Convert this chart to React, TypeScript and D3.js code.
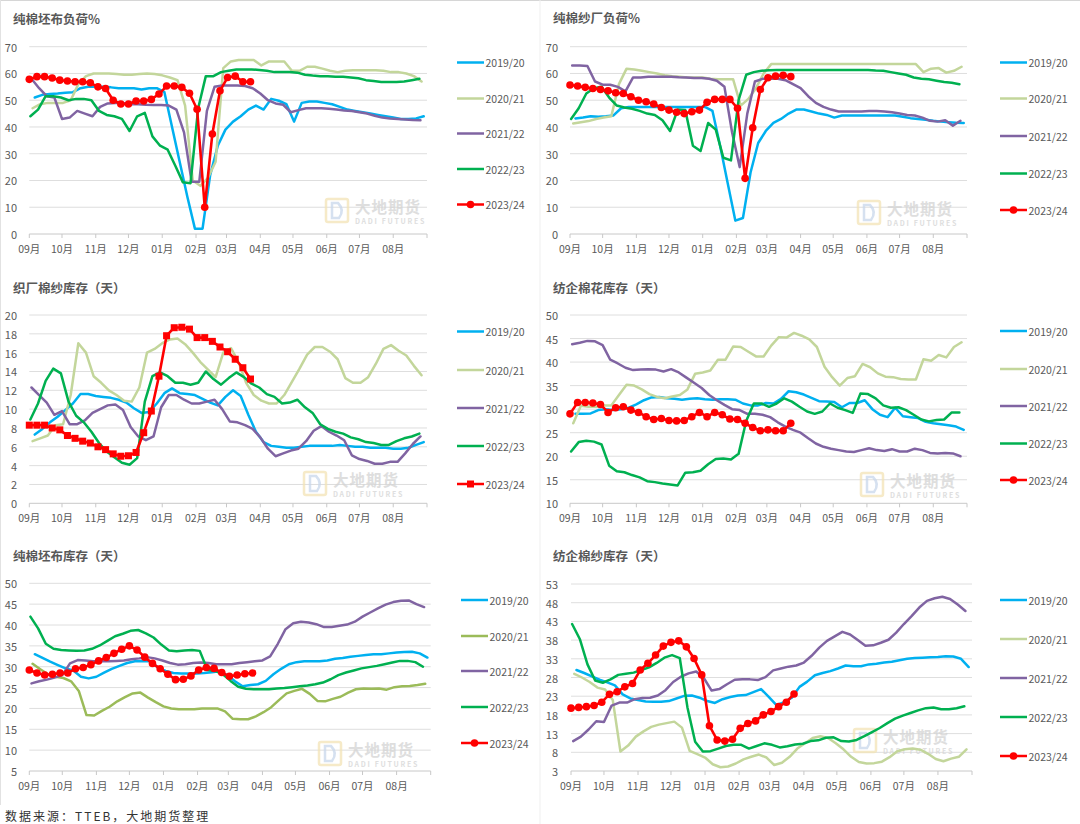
import React from 'react';
import * as d3 from 'd3';

// ---------- shared categories ----------
const seasons = ['2019/20', '2020/21', '2021/22', '2022/23', '2023/24'];
const seasonFirstWeek = ['2019-09-06', '2020-09-04', '2021-09-03', '2022-09-02', '2023-09-01'];
const monthLabels = ['09月', '10月', '11月', '12月', '01月', '02月', '03月', '04月', '05月', '06月', '07月', '08月'];
const seasonColors = ['#00b0f0', '#c3d69b', '#8064a2', '#00b050', '#ff0000'];
const seasonColorsAlt = ['#00b0f0', '#9bbb59', '#8064a2', '#00b050', '#ff0000'];

// ---------- 纯棉坯布负荷% ----------
const greyLoad1920 = [51, 52, 52.3, 52.5, 52.8, 53, 54.5, 55, 55, 55, 54.8, 54.5, 54.5, 54.5, 54, 54.5, 54.5, 53, 40, 27, 14, 2, 2, 22, 33, 39, 42, 44, 46.5, 48, 46.5, 50.5, 49.8, 48.5, 42, 49, 49.5, 49.5, 49, 48.5, 47.5, 46.5, 46, 45.5, 45, 44.5, 44, 43.5, 43, 43, 43.2, 44];
const greyLoad2021 = [47, 48.5, 49, 49, 49, 50, 56, 59, 60, 60, 60, 59.8, 59.5, 59.5, 59.8, 60, 59.8, 59.3, 58.5, 57.5, 48, 20, 18, 21, 27, 62, 64.5, 65, 65, 65, 63, 64.5, 64.5, 64.5, 61, 61, 62.5, 62.5, 61.8, 61, 60.5, 61, 61.2, 61.2, 61.2, 61.2, 61, 60.5, 60.5, 60, 59, 57];
const greyLoad2122 = [58, 54.5, 51.5, 51, 43, 43.5, 46, 45, 44, 47.5, 48.8, 49, 49, 48.5, 48.5, 48.3, 48.2, 48.2, 48, 46.5, 38, 19.5, 19.5, 46, 55, 55.5, 55.5, 55.5, 55.3, 54.5, 52.5, 50, 48.8, 48.3, 45.5, 46.3, 47, 47, 47, 46.8, 46.5, 46.2, 46, 45.5, 45, 44.2, 43.5, 43.2, 43, 42.8, 42.6, 42.5];
const greyLoad2223 = [44, 46.5, 51.5, 51.5, 51, 50, 50.5, 50.5, 50, 46, 44.5, 44, 43, 38.5, 44, 45.3, 36.5, 33, 31.5, 25.5, 19.3, 19, 47, 59, 59, 60.5, 61, 61.5, 61.5, 61.5, 61.3, 61, 60.5, 60.5, 60.5, 60.3, 59.5, 59.2, 59, 59, 58.8, 58.8, 58.5, 58.2, 57.5, 57.2, 56.8, 56.8, 56.8, 57, 57.5, 58];
const greyLoad2324 = [57.8, 58.8, 58.8, 58.3, 57.5, 57.2, 56.9, 56.9, 56.5, 55, 54.4, 50, 48.6, 48.6, 49.7, 49.7, 50.3, 52.3, 55.3, 55.3, 54.8, 52.6, 46.6, 10, 37.4, 53.5, 58.5, 59, 56.9, 56.9];

// ---------- 纯棉纱厂负荷% ----------
const yarnLoad1920 = [43.2, 43.5, 44, 43.8, 44, 44.3, 47, 47.5, 47.5, 47.5, 47.5, 47.5, 47.5, 47.5, 47.5, 47.5, 47.5, 47.5, 46, 33, 19, 5, 6, 23, 34, 38.5, 41.5, 43, 45, 46.5, 46.5, 45.8, 45, 44.5, 43.5, 44.3, 44.3, 44.3, 44.3, 44.3, 44.3, 44.3, 44.3, 43.8, 43.3, 43, 42.7, 42.3, 42, 41.8, 41.6, 41.5];
const yarnLoad2021 = [41.3, 41.8, 42.2, 43, 43.5, 44, 56, 61.8, 61.5, 61, 60.5, 60, 59.3, 59, 58.8, 58.5, 58.5, 58.5, 58, 57.8, 57.8, 57.8, 48, 50.5, 54.5, 60, 63.5, 63.5, 63.5, 63.5, 63.5, 63.5, 63.5, 63.5, 63.5, 63.5, 63.5, 63.5, 63.5, 63.5, 63.5, 63.5, 63.5, 63.5, 63.5, 63.5, 60.5, 61.8, 62, 60.3, 61, 62.5];
const yarnLoad2122 = [63, 63, 62.8, 57, 55.8, 55.8, 55, 53.3, 58.5, 58.5, 58.8, 58.8, 58.8, 58.8, 58.6, 58.5, 58.3, 58.3, 58, 57.3, 55, 38, 25, 45, 57, 58, 58, 58, 57.5, 56, 54.5, 51.5, 49, 47.5, 46.5, 45.8, 45.8, 45.8, 45.8, 46, 46, 45.8, 45.5, 45, 44.5, 44.3, 43.5, 42.3, 42, 42.5, 40.5, 42.3];
const yarnLoad2223 = [43, 47, 52.5, 54.5, 55, 51, 48, 47.3, 46.8, 46, 45, 44.5, 42.5, 38.5, 46.5, 46.3, 33, 31, 41.5, 39, 28.5, 27.5, 50, 59.5, 60.5, 61, 61.2, 61.3, 61.3, 61.3, 61.3, 61.3, 61.3, 61.3, 61.3, 61.3, 61.3, 61.3, 61.3, 61.3, 61.1, 61, 60.5, 60, 59.5, 58.5, 58, 57.8, 57.3, 56.8, 56.5, 56];
const yarnLoad2324 = [55.7, 55.3, 54.8, 54.4, 54, 53.5, 52.8, 52.5, 51.3, 50, 49.4, 48.6, 47.3, 46.3, 45.5, 45, 45.7, 46.3, 49.2, 50.3, 50.3, 50.3, 47, 20.8, 39.7, 54, 58.4, 59, 59.3, 58.8];

// ---------- 织厂棉纱库存（天） ----------
const weaveStock1920 = [7.3, 7.9, 8.6, 9.2, 9.9, 10.6, 11.6, 11.6, 11.4, 11.3, 11.2, 11, 10.7, 10.1, 9.6, 9.7, 10.6, 11.7, 12.2, 11.7, 11.6, 11.5, 11.1, 10.7, 10.4, 11.3, 12, 11.4, 9.4, 7.6, 6.5, 6.1, 6, 5.9, 5.9, 6, 6.1, 6.1, 6.1, 6.1, 6.2, 6.1, 6, 6, 5.9, 5.9, 5.9, 5.8, 5.8, 5.9, 6.2, 6.5];
const weaveStock2021 = [6.6, 6.9, 7.2, 8.3, 8.4, 11.5, 17, 16, 13.5, 12.8, 12, 11.5, 10.9, 10.8, 12.3, 16, 16.4, 17, 17.4, 17.5, 16.9, 16, 15, 14.2, 13.4, 16, 16.5, 15, 12.8, 11.5, 10.9, 10.6, 10.6, 11.5, 12.9, 14.3, 15.8, 16.6, 16.6, 16.1, 15.3, 13.3, 12.8, 12.8, 13.4, 14.8, 16.4, 16.8, 16.2, 15.7, 14.6, 13.6];
const weaveStock2122 = [12.3, 11.5, 10.7, 9.4, 9.8, 8.4, 8.4, 8.8, 9.6, 10, 10.4, 10.5, 9.9, 8.1, 7.1, 6.7, 7.1, 10.2, 11.5, 11.5, 11, 10.6, 10.6, 10.8, 11, 10, 8.7, 8.6, 8.3, 7.9, 7, 5.8, 5, 5.3, 5.6, 5.8, 6.6, 7.7, 8.2, 7.6, 7.2, 6.7, 5.1, 4.7, 4.5, 4.2, 4.2, 4.4, 4.4, 5.3, 6.3, 7.1];
const weaveStock2223 = [8.9, 10.6, 13, 14.3, 13.8, 10.8, 9.3, 8.6, 7.6, 6.4, 5.5, 4.9, 4.3, 4.1, 4.8, 10.8, 13.5, 13.9, 13.5, 12.8, 12.8, 12.6, 12.8, 14, 13.2, 12.6, 13.3, 13.9, 13.4, 12.7, 12.3, 11.6, 11.3, 10.6, 10.7, 11, 10.2, 9.6, 8.4, 7.9, 7.6, 7.4, 7, 6.8, 6.5, 6.4, 6.2, 6.2, 6.6, 6.9, 7.1, 7.4];
const weaveStock2324 = [8.3, 8.3, 8.3, 8, 7.8, 7.2, 6.9, 6.6, 6.4, 6, 5.7, 5.25, 5, 5.05, 5.4, 7.5, 9.8, 13.5, 17.8, 18.65, 18.7, 18.5, 17.6, 17.6, 17.2, 16.6, 16.1, 15.3, 14.4, 13.2];

// ---------- 纺企棉花库存（天） ----------
const cottonStock1920 = [29, 29, 29.1, 29.8, 30, 29.8, 30, 30.3, 31, 31.9, 32.5, 32.6, 32.3, 32.2, 32, 32.2, 32.3, 32.1, 32, 32.1, 32.1, 32, 31.2, 30.8, 30.8, 31.3, 31.2, 32.2, 33.8, 33.6, 33.1, 32.4, 31.7, 31.6, 31.5, 30.4, 31.3, 31.3, 31.9, 30, 28.8, 28.3, 30.3, 28.5, 28.3, 28.1, 27.3, 27, 26.8, 26.6, 26.3, 25.6];
const cottonStock2021 = [27, 30.7, 30.5, 30.5, 30.8, 30.8, 33, 35.2, 35, 34.2, 33.2, 32.6, 32.3, 32.7, 33, 34.2, 37.5, 37.8, 38.2, 40.5, 40.5, 43.3, 43.2, 42.2, 41.2, 41.2, 43.5, 45.3, 45.2, 46.2, 45.6, 44.8, 43.2, 39, 36.8, 35, 36.6, 37, 39.6, 38.9, 37.6, 36.9, 36.8, 36.4, 36.3, 36.3, 40.6, 40.3, 41.5, 41, 43.2, 44.2];
const cottonStock2122 = [43.8, 44.1, 44.5, 44.4, 43.6, 40.5, 39.7, 38.8, 38.3, 38.4, 38.5, 38.4, 38, 38.5, 37.8, 36.7, 35.6, 34.5, 33, 31.9, 30.9, 30, 29.8, 29, 29, 28.8, 28.3, 27.2, 26.3, 25.6, 25, 23.8, 22.7, 22, 21.6, 21.3, 21, 20.9, 21.3, 21.7, 21.3, 21.1, 21.5, 21, 21, 21.6, 21.3, 20.7, 20.6, 20.7, 20.6, 20];
const cottonStock2223 = [21, 23, 23.3, 23.1, 22.5, 18, 16.8, 16.6, 16, 15.5, 14.7, 14.5, 14.2, 14, 13.8, 16.5, 16.6, 16.9, 18.3, 19.4, 19.5, 19.3, 20.5, 27.5, 31.2, 31.2, 30.5, 31.2, 32.3, 31.6, 30.5, 29.5, 29, 29.5, 31.2, 30.3, 29.8, 29.2, 33.3, 33.2, 32.3, 30.8, 30.3, 30.4, 29.8, 28.8, 27.8, 27.4, 27.7, 27.8, 29.3, 29.3];
const cottonStock2324 = [29, 31.4, 31.4, 31.3, 31, 29.3, 30.3, 30.5, 29.8, 29.3, 28.4, 27.8, 28, 27.6, 27.5, 27.6, 28.4, 29.3, 28.4, 29.3, 28.8, 27.9, 27.8, 27, 26.1, 25.4, 25.6, 25.4, 25.4, 27];

// ---------- 纯棉坯布库存（天） ----------
const greyStock1920 = [33, 32.1, 31.2, 30.4, 29.6, 29.1, 27.6, 27.2, 27.6, 28.6, 29.5, 30.2, 30.9, 31.3, 31.4, 31.3, 29.8, 29, 28.5, 28.4, 28.4, 28.4, 28.5, 28.7, 28.9, 28, 26.5, 25.3, 25.6, 25.8, 26.6, 28.2, 29.5, 30.6, 31.1, 31.3, 31.3, 31.3, 31.5, 31.9, 32.1, 32.4, 32.6, 32.8, 33, 33, 33.2, 33.4, 33.5, 33.6, 33.2, 32.2];
const greyStock2021 = [30.7, 29.4, 28.2, 27.6, 27.3, 26.5, 24.2, 18.4, 18.3, 19.4, 20.4, 21.7, 22.7, 23.6, 23.8, 22.6, 21.5, 20.5, 20, 19.8, 19.8, 19.8, 20, 20, 20, 19.3, 17.5, 17.4, 17.4, 18.1, 19.1, 20.3, 22, 23.6, 24.2, 24.7, 23.5, 21.8, 21.7, 22.3, 22.8, 23.8, 24.6, 24.8, 24.7, 24.8, 24.5, 25.1, 25.3, 25.4, 25.6, 25.9];
const greyStock2122 = [26, 26.5, 26.9, 27.4, 28, 30.8, 31.6, 31.5, 31.3, 31.3, 31.3, 31.4, 31.5, 31.8, 32, 32.3, 32, 31.5, 30.9, 30.5, 30.6, 30.9, 31, 30.9, 30.6, 30.6, 30.6, 30.9, 31.1, 31.3, 31.5, 32.5, 35.5, 39, 40.4, 40.8, 40.6, 40.2, 39.5, 39.5, 39.8, 40.1, 40.8, 42, 43, 44, 44.9, 45.5, 45.8, 45.9, 45, 44.3];
const greyStock2223 = [42, 39.2, 35.5, 34.3, 34, 33.9, 33.8, 33.9, 34.3, 35.1, 36.2, 37.3, 37.9, 38.6, 38.8, 38, 37, 35.3, 33.9, 33.7, 33.9, 34, 33.8, 29.2, 29, 28.2, 26.6, 25.2, 24.7, 24.6, 24.6, 24.6, 24.8, 24.9, 25.1, 25.3, 25.5, 25.8, 26.2, 27, 28, 28.6, 29.1, 29.6, 29.9, 30.2, 30.6, 31, 31.4, 31.4, 31.1, 30];
const greyStock2324 = [29.2, 28.5, 28, 28.2, 28.5, 28.5, 29.5, 29.8, 30.5, 31.4, 32.2, 33.2, 34.2, 35, 34, 32.3, 30.8, 29.5, 28.2, 26.9, 27, 27.8, 29.2, 29.8, 29.6, 28.6, 27.7, 28, 28.3, 28.5];

// ---------- 纺企棉纱库存（天） ----------
const yarnStock1920 = [30, 29.2, 28.3, 27.4, 26.7, 25.9, 23.5, 22.4, 22, 21.6, 21.5, 21.5, 21.7, 22.4, 23.1, 23.2, 22.6, 21.7, 21.2, 22.2, 22.8, 23.2, 23.3, 24.1, 24.9, 22.8, 20.6, 21.4, 22.6, 25.5, 26.9, 28.6, 29.2, 29.7, 30.4, 31.2, 31, 31, 31.5, 31.7, 32, 32.2, 32.6, 33, 33.2, 33.3, 33.4, 33.5, 33.7, 33.6, 33, 30.8];
const yarnStock2021 = [29, 28, 26.8, 25.3, 24.8, 22, 8.2, 9.8, 12.2, 13.6, 14.8, 15.4, 15.8, 16.2, 14.6, 8.4, 7.5, 6.6, 4.8, 4, 4.2, 5, 6.1, 6.8, 7.4, 6.6, 4.6, 5.2, 6.8, 9, 10.4, 11.8, 12.3, 11.8, 10.4, 8.8, 6.8, 5.4, 5, 5.1, 5.5, 6.7, 8.3, 8.8, 9, 8.7, 7.6, 6.2, 5.6, 6.3, 6.8, 8.8];
const yarnStock2122 = [11, 12.2, 14.1, 16.3, 16.1, 20.5, 21.3, 21.3, 22.2, 22.5, 22.6, 23.2, 24.6, 26.8, 28.2, 29.1, 29.6, 27.8, 24.5, 24.9, 26.2, 27.4, 27.5, 27.5, 27.3, 28.1, 29.9, 30.4, 30.9, 31.2, 32, 33.8, 36, 37.8, 39, 40.2, 39.5, 38, 36.5, 36.6, 37.3, 38.1, 40, 42.3, 44.4, 46.7, 48.5, 49.2, 49.6, 49, 47.5, 45.8];
const yarnStock2223 = [42.3, 38.3, 31.5, 27.2, 26.6, 27.5, 28.7, 29, 29.3, 30, 30.7, 31.9, 33.3, 34, 33.2, 20, 10.8, 8.2, 8.3, 9, 9.7, 10, 10, 9, 9.7, 10.4, 10, 9.3, 9.6, 10.1, 10.3, 11, 11.2, 11.9, 12, 11, 10.9, 11.3, 12.3, 13.4, 14.5, 15.8, 17, 17.8, 18.5, 19.2, 19.8, 20, 19.5, 19.5, 19.8, 20.3];
const yarnStock2324 = [19.8, 20, 20.2, 20.5, 21.4, 23.5, 24.2, 25.5, 26.4, 30, 31.8, 34, 36.4, 37.4, 37.8, 36.2, 33.1, 28.7, 15.1, 11.3, 11, 11.5, 14.4, 15.7, 16.4, 18, 18.9, 20.2, 21.4, 23.6];

// ---------- layout ----------
type PanelCfg = {
  title: string;
  series: number[][];
  colors: string[];
  yMin: number; yMax: number; yStep: number;
  left: number; right: number; top: number; bottom: number;
  titleX: number; titleY: number; yLabelX: number;
  legendX: number; legendY: number[];
  marker: 'circle' | 'square';
  wm: [number, number];
};

const panels: PanelCfg[] = [
  { title: '纯棉坯布负荷%', series: [greyLoad1920, greyLoad2021, greyLoad2122, greyLoad2223, greyLoad2324], colors: seasonColors,
    yMin: 0, yMax: 70, yStep: 10, left: 29.3, right: 427, top: 46.7, bottom: 234,
    titleX: 13, titleY: 18, yLabelX: 17, legendX: 457, legendY: [62.5, 98.5, 133.5, 169, 204.5], marker: 'circle', wm: [325, 198] },
  { title: '纯棉纱厂负荷%', series: [yarnLoad1920, yarnLoad2021, yarnLoad2122, yarnLoad2223, yarnLoad2324], colors: seasonColors,
    yMin: 0, yMax: 70, yStep: 10, left: 570, right: 967, top: 46.7, bottom: 234,
    titleX: 553, titleY: 17.5, yLabelX: 558, legendX: 1000, legendY: [62.5, 98.5, 136, 173.5, 210], marker: 'circle', wm: [857, 200] },
  { title: '织厂棉纱库存（天）', series: [weaveStock1920, weaveStock2021, weaveStock2122, weaveStock2223, weaveStock2324], colors: seasonColors,
    yMin: 0, yMax: 20, yStep: 2, left: 29.3, right: 427, top: 315, bottom: 503.3,
    titleX: 13, titleY: 287, yLabelX: 17, legendX: 457, legendY: [331.5, 370, 408, 446, 484], marker: 'square', wm: [303, 471] },
  { title: '纺企棉花库存（天）', series: [cottonStock1920, cottonStock2021, cottonStock2122, cottonStock2223, cottonStock2324], colors: seasonColors,
    yMin: 10, yMax: 50, yStep: 5, left: 570, right: 967, top: 315, bottom: 503.3,
    titleX: 553, titleY: 287, yLabelX: 558, legendX: 1000, legendY: [331, 369, 406, 443.5, 480], marker: 'circle', wm: [860, 472] },
  { title: '纯棉坯布库存（天）', series: [greyStock1920, greyStock2021, greyStock2122, greyStock2223, greyStock2324], colors: seasonColorsAlt,
    yMin: 5, yMax: 50, yStep: 5, left: 29.3, right: 430.7, top: 583.3, bottom: 771,
    titleX: 13, titleY: 555, yLabelX: 17, legendX: 461, legendY: [600, 636, 671, 707, 743], marker: 'circle', wm: [318, 741] },
  { title: '纺企棉纱库存（天）', series: [yarnStock1920, yarnStock2021, yarnStock2122, yarnStock2223, yarnStock2324], colors: seasonColors,
    yMin: 3, yMax: 53, yStep: 5, left: 571, right: 972, top: 584, bottom: 771,
    titleX: 553, titleY: 555, yLabelX: 558, legendX: 1000, legendY: [600, 639, 678, 717, 756], marker: 'circle', wm: [853, 728] },
];

const FONT = '"Noto Sans CJK SC", "Noto Sans", sans-serif';
const TEXT = '#595959';

const parseDay = d3.timeParse('%Y-%m-%d');
function seasonOffset(s: string): number {
  const d = parseDay(s) as Date;
  return d3.timeDay.count(new Date(d.getFullYear(), 8, 1), d);
}
const axisStart = new Date(2022, 8, 1);
const axisEnd = new Date(2023, 8, 1);
const monthDays = d3.timeMonths(axisStart, axisEnd).map((m) => d3.timeDay.count(axisStart, m));
const axisDays = d3.timeDay.count(axisStart, axisEnd);

function Watermark({ x, y }: { x: number; y: number }) {
  return (
    <g opacity={0.75}>
      <rect x={x + 1} y={y + 1} width={22} height={23} rx={2} fill="none" stroke="#f3e4b6" strokeWidth={2.5} />
      <path d={`M${x + 7},${y + 5} L${x + 13},${y + 5} Q${x + 20},${y + 12} ${x + 14},${y + 20} L${x + 7},${y + 20} Z`} fill="none" stroke="#c9d8ec" strokeWidth={2.5} />
      <text x={x + 30} y={y + 8} dominantBaseline="central" fontFamily={FONT} fontWeight={700} fontSize={15.5} fill="#d4d4d4" letterSpacing={1}>大地期货</text>
      <text x={x + 30} y={y + 22.5} dominantBaseline="central" fontFamily={FONT} fontWeight={700} fontSize={7} fill="#d4d4d4" letterSpacing={1.7}>DADI FUTURES</text>
    </g>
  );
}

function Panel({ p }: { p: PanelCfg }) {
  const x = d3.scaleLinear().domain([0, axisDays]).range([p.left, p.right]);
  const y = d3.scaleLinear().domain([p.yMin, p.yMax]).range([p.bottom, p.top]);
  const yTicks = d3.range(p.yMin, p.yMax + p.yStep / 2, p.yStep);
  const line = d3.line<[number, number]>().x((d) => x(d[0])).y((d) => y(d[1]));
  const pts = p.series.map((vals, si) => {
    const off = seasonOffset(seasonFirstWeek[si]);
    return vals.map((v, i) => [off + 7 * i, v] as [number, number]);
  });
  const last = pts.length - 1;
  const mk = (cx: number, cy: number, key: string | number, color: string) =>
    p.marker === 'circle' ? (
      <circle key={key} cx={cx} cy={cy} r={3.8} fill={color} />
    ) : (
      <rect key={key} x={cx - 3.5} y={cy - 3.5} width={7} height={7} fill={color} />
    );
  return (
    <g>
      <text x={p.titleX} y={p.titleY} dominantBaseline="central" fontFamily={FONT} fontWeight={700} fontSize={12.5} fill={TEXT}>{p.title}</text>
      {yTicks.map((t) => (
        <g key={t}>
          {t !== p.yMin && <line x1={p.left} x2={p.right} y1={y(t)} y2={y(t)} stroke="#dedede" strokeWidth={1} />}
          <text x={p.yLabelX} y={y(t)} textAnchor="end" dominantBaseline="central" fontFamily={FONT} fontSize={11} fill={TEXT}>{t}</text>
        </g>
      ))}
      <Watermark x={p.wm[0]} y={p.wm[1]} />
      <line x1={p.left} x2={p.right} y1={p.bottom} y2={p.bottom} stroke="#c8c8c8" strokeWidth={1} />
      {[...monthDays, axisDays].map((d) => (
        <line key={d} x1={x(d)} x2={x(d)} y1={p.bottom} y2={p.bottom + 4} stroke="#c8c8c8" strokeWidth={1} />
      ))}
      {monthDays.map((d, i) => (
        <text key={d} x={x(d)} y={p.bottom + 14} textAnchor="middle" dominantBaseline="central" fontFamily={FONT} fontSize={10.5} fill={TEXT}>{monthLabels[i]}</text>
      ))}
      {pts.map((s, si) => (
        <path key={si} d={line(s) || ''} fill="none" stroke={p.colors[si]} strokeWidth={si === last ? 2.6 : 2.5} strokeLinejoin="round" strokeLinecap="round" />
      ))}
      {pts[last].map((d, i) => mk(x(d[0]), y(d[1]), i, p.colors[last]))}
      {seasons.map((s, si) => {
        const ly = p.legendY[si];
        return (
          <g key={s}>
            <line x1={p.legendX} x2={p.legendX + 27} y1={ly} y2={ly} stroke={p.colors[si]} strokeWidth={2.5} />
            {si === last && mk(p.legendX + 13.5, ly, 'lg', p.colors[si])}
            <text x={p.legendX + 28.5} y={ly} dominantBaseline="central" fontFamily={FONT} fontSize={10.5} fill={TEXT}>{s}</text>
          </g>
        );
      })}
    </g>
  );
}

export default function App() {
  return (
    <div style={{ position: 'absolute', left: 0, top: 0, width: 1080, height: 824, background: '#fff' }}>
      <svg width={1080} height={824} viewBox="0 0 1080 824" style={{ display: 'block' }}>
        <rect x={0} y={0} width={1080} height={824} fill="#fff" />
        <line x1={0} x2={1080} y1={0.5} y2={0.5} stroke="#d6d6d6" strokeWidth={1} />
        <line x1={0.5} x2={0.5} y1={0} y2={805} stroke="#e2e2e2" strokeWidth={1} />
        <line x1={540} x2={540} y1={0} y2={824} stroke="#efefef" strokeWidth={1} />
        {panels.map((p) => (
          <Panel key={p.title} p={p} />
        ))}
        <text x={5} y={815} dominantBaseline="central" fontFamily={FONT} fontSize={12} fill="#333" letterSpacing={2}>数据来源：TTEB，大地期货整理</text>
      </svg>
    </div>
  );
}
